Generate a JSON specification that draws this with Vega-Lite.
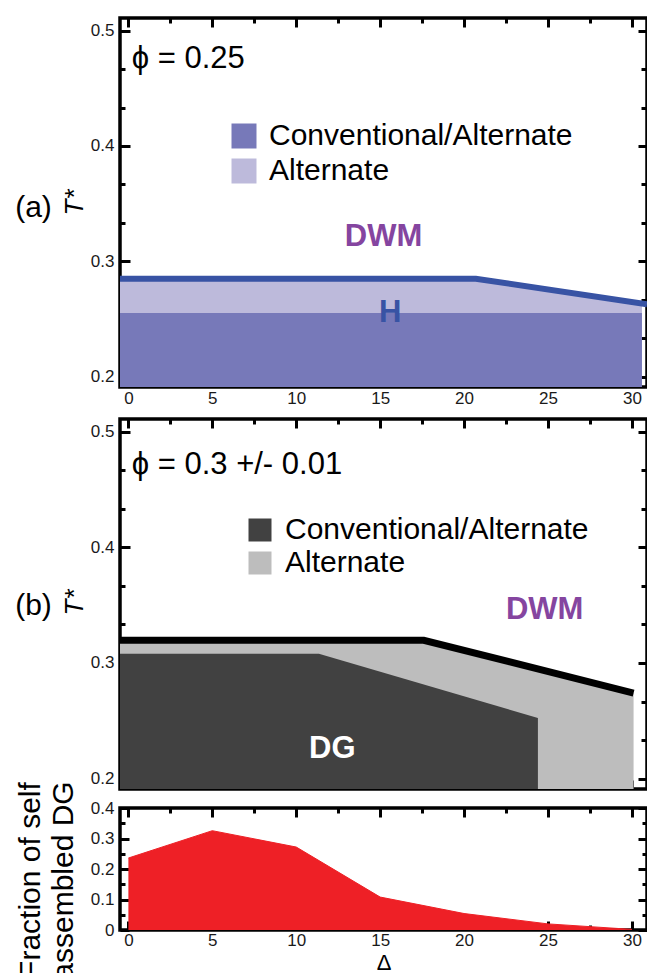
{
  "$schema": "https://vega.github.io/schema/vega-lite/v6.json",
  "padding": {"left": 12, "top": 14, "right": 0, "bottom": 0},
  "background": "white",
  "spacing": 32,
  "bounds": "flush",
  "resolve": {"scale": {"color": "independent"}, "legend": {"color": "independent"}},
  "config": {
    "view": {"stroke": "black", "strokeWidth": 3.5},
    "axis": {"domain": false, "grid": false, "tickColor": "black", "tickWidth": 3, "labelFont": "Liberation Sans", "labelFontSize": 17, "labelColor": "#1a1a1a", "titleFont": "Liberation Sans", "titleColor": "black", "titleFontWeight": "normal", "labelFlush": false, "labelOverlap": false, "zindex": 1},
    "text": {"font": "Liberation Sans"},
    "legend": {"labelFont": "Liberation Sans"}
  },
  "vconcat": [
    {
      "width": 527,
      "height": 369,
      "resolve": {"axis": {"x": "independent", "y": "independent"}},
      "layer": [
        {
          "data": {"values": [
            {"delta": -0.5, "top": 0.2552, "bottom": 0.191, "phase": "Conventional/Alternate"},
            {"delta": 30.6, "top": 0.2552, "bottom": 0.191, "phase": "Conventional/Alternate"}
          ]},
          "mark": {"type": "area", "opacity": 1},
          "encoding": {
            "x": {"field": "delta", "type": "quantitative", "scale": {"domain": [-0.5, 30.9], "nice": false, "zero": false},
              "axis": {"orient": "bottom", "values": [0, 2.5, 5, 7.5, 10, 12.5, 15, 17.5, 20, 22.5, 25, 27.5, 30],
                "tickSize": {"condition": {"test": "datum.value % 5 == 0", "value": -9}, "value": -5},
                "labelExpr": "datum.value % 5 == 0 ? datum.label : ''", "labelPadding": 12, "title": null}},
            "y": {"field": "top", "type": "quantitative", "scale": {"domain": [0.191, 0.511], "nice": false, "zero": false},
              "axis": {"orient": "left", "values": [0.2, 0.23333, 0.26667, 0.3, 0.33333, 0.36667, 0.4, 0.43333, 0.46667, 0.5],
                "tickSize": {"condition": {"test": "abs(datum.value*10 - round(datum.value*10)) < 0.01", "value": -10}, "value": -5},
                "labelExpr": "abs(datum.value*10 - round(datum.value*10)) < 0.01 ? format(datum.value, '.1f') : ''",
                "labelPadding": 16, "title": "T*", "titleFontStyle": "italic", "titleFontSize": 26, "titleAngle": 270,
                "titleX": -46, "titleY": 184, "titleAlign": "center", "titleBaseline": "middle"}},
            "y2": {"field": "bottom"},
            "color": {"field": "phase", "type": "nominal",
              "scale": {"domain": ["Conventional/Alternate", "Alternate"], "range": ["#7779b9", "#bdbadb"]},
              "legend": {"orient": "none", "legendX": 109, "legendY": 103, "title": null, "symbolType": "square", "symbolSize": 625, "symbolStrokeWidth": 0, "symbolOpacity": 1, "labelFontSize": 30, "labelColor": "black", "labelOffset": 10, "rowPadding": 5, "padding": 0, "labelLimit": 400}}
          }
        },
        {
          "data": {"values": [
            {"delta": -0.5, "top": 0.2849, "bottom": 0.2552, "phase": "Alternate"},
            {"delta": 20.7, "top": 0.2849, "bottom": 0.2552, "phase": "Alternate"},
            {"delta": 30.6, "top": 0.2636, "bottom": 0.2552, "phase": "Alternate"}
          ]},
          "mark": {"type": "area", "opacity": 1},
          "encoding": {
            "x": {"field": "delta", "type": "quantitative", "axis": null},
            "y": {"field": "top", "type": "quantitative",
              "axis": {"orient": "left", "ticks": false, "labels": false, "title": "(a)", "titleFontSize": 30, "titleAngle": 0,
                "titleX": -87, "titleY": 189, "titleAlign": "center", "titleBaseline": "middle"}},
            "y2": {"field": "bottom"},
            "color": {"field": "phase", "type": "nominal"}
          }
        },
        {
          "data": {"values": [
            {"delta": -0.5, "t": 0.2849},
            {"delta": 20.7, "t": 0.2849},
            {"delta": 30.9, "t": 0.2628}
          ]},
          "mark": {"type": "line", "color": "#3853a4", "strokeWidth": 6},
          "encoding": {
            "x": {"field": "delta", "type": "quantitative",
              "axis": {"orient": "top", "values": [0, 2.5, 5, 7.5, 10, 12.5, 15, 17.5, 20, 22.5, 25, 27.5, 30],
                "tickSize": {"condition": {"test": "datum.value % 5 == 0", "value": -9}, "value": -5},
                "labels": false, "title": null}},
            "y": {"field": "t", "type": "quantitative",
              "axis": {"orient": "right", "values": [0.2, 0.23333, 0.26667, 0.3, 0.33333, 0.36667, 0.4, 0.43333, 0.46667, 0.5],
                "tickSize": {"condition": {"test": "abs(datum.value*10 - round(datum.value*10)) < 0.01", "value": -9}, "value": -6},
                "labels": false, "title": null}}
          }
        },
        {
          "data": {"values": [{"label": "ϕ = 0.25", "delta": 0.2, "t": 0.4754}]},
          "mark": {"type": "text", "align": "left", "baseline": "middle", "fontSize": 31, "color": "black"},
          "encoding": {
            "x": {"field": "delta", "type": "quantitative", "axis": null},
            "y": {"field": "t", "type": "quantitative", "axis": null},
            "text": {"field": "label"}
          }
        },
        {
          "data": {"values": [{"label": "DWM", "delta": 15.2, "t": 0.321}]},
          "mark": {"type": "text", "align": "center", "baseline": "middle", "fontSize": 31, "fontWeight": "bold", "color": "#8545a0"},
          "encoding": {
            "x": {"field": "delta", "type": "quantitative", "axis": null},
            "y": {"field": "t", "type": "quantitative", "axis": null},
            "text": {"field": "label"}
          }
        },
        {
          "data": {"values": [{"label": "H", "delta": 15.6, "t": 0.2555}]},
          "mark": {"type": "text", "align": "center", "baseline": "middle", "fontSize": 31, "fontWeight": "bold", "color": "#3853a4"},
          "encoding": {
            "x": {"field": "delta", "type": "quantitative", "axis": null},
            "y": {"field": "t", "type": "quantitative", "axis": null},
            "text": {"field": "label"}
          }
        }
      ]
    },
    {
      "spacing": 19,
      "bounds": "flush",
      "vconcat": [
        {
          "width": 527,
          "height": 370,
          "resolve": {"axis": {"x": "independent", "y": "independent"}},
          "layer": [
            {
              "data": {"values": [
                {"delta": -0.5, "top": 0.3196, "bottom": 0.191, "phase": "Alternate"},
                {"delta": 17.6, "top": 0.3196, "bottom": 0.191, "phase": "Alternate"},
                {"delta": 30.1, "top": 0.274, "bottom": 0.191, "phase": "Alternate"}
              ]},
              "mark": {"type": "area", "opacity": 1},
              "encoding": {
                "x": {"field": "delta", "type": "quantitative", "scale": {"domain": [-0.5, 30.9], "nice": false, "zero": false},
                  "axis": {"orient": "bottom", "values": [0, 2.5, 5, 7.5, 10, 12.5, 15, 17.5, 20, 22.5, 25, 27.5, 30],
                    "tickSize": {"condition": {"test": "datum.value % 5 == 0", "value": -9}, "value": -5},
                    "labels": false, "title": null}},
                "y": {"field": "top", "type": "quantitative", "scale": {"domain": [0.191, 0.511], "nice": false, "zero": false},
                  "axis": {"orient": "left", "values": [0.2, 0.23333, 0.26667, 0.3, 0.33333, 0.36667, 0.4, 0.43333, 0.46667, 0.5],
                    "tickSize": {"condition": {"test": "abs(datum.value*10 - round(datum.value*10)) < 0.01", "value": -10}, "value": -5},
                    "labelExpr": "abs(datum.value*10 - round(datum.value*10)) < 0.01 ? format(datum.value, '.1f') : ''",
                    "labelPadding": 16, "title": "T*", "titleFontStyle": "italic", "titleFontSize": 26, "titleAngle": 270,
                    "titleX": -46, "titleY": 183, "titleAlign": "center", "titleBaseline": "middle"}},
                "y2": {"field": "bottom"},
                "color": {"field": "phase", "type": "nominal",
                  "scale": {"domain": ["Conventional/Alternate", "Alternate"], "range": ["#414141", "#bdbdbd"]},
                  "legend": {"orient": "none", "legendX": 125, "legendY": 96, "title": null, "symbolType": "square", "symbolSize": 529, "symbolStrokeWidth": 0, "symbolOpacity": 1, "labelFontSize": 30, "labelColor": "black", "labelOffset": 10, "rowPadding": 3, "padding": 0, "labelLimit": 400}}
              }
            },
            {
              "data": {"values": [
                {"delta": -0.5, "top": 0.308, "bottom": 0.191, "phase": "Conventional/Alternate"},
                {"delta": 11.35, "top": 0.308, "bottom": 0.191, "phase": "Conventional/Alternate"},
                {"delta": 24.4, "top": 0.2524, "bottom": 0.191, "phase": "Conventional/Alternate"}
              ]},
              "mark": {"type": "area", "opacity": 1},
              "encoding": {
                "x": {"field": "delta", "type": "quantitative", "axis": null},
                "y": {"field": "top", "type": "quantitative",
                  "axis": {"orient": "left", "ticks": false, "labels": false, "title": "(b)", "titleFontSize": 30, "titleAngle": 0,
                    "titleX": -87, "titleY": 186, "titleAlign": "center", "titleBaseline": "middle"}},
                "y2": {"field": "bottom"},
                "color": {"field": "phase", "type": "nominal"}
              }
            },
            {
              "data": {"values": [
                {"delta": -0.5, "t": 0.3196},
                {"delta": 17.6, "t": 0.3196},
                {"delta": 30.1, "t": 0.274}
              ]},
              "mark": {"type": "line", "color": "black", "strokeWidth": 7},
              "encoding": {
                "x": {"field": "delta", "type": "quantitative",
                  "axis": {"orient": "top", "values": [0, 2.5, 5, 7.5, 10, 12.5, 15, 17.5, 20, 22.5, 25, 27.5, 30],
                    "tickSize": {"condition": {"test": "datum.value % 5 == 0", "value": -9}, "value": -5},
                    "labels": false, "title": null}},
                "y": {"field": "t", "type": "quantitative",
                  "axis": {"orient": "right", "values": [0.2, 0.23333, 0.26667, 0.3, 0.33333, 0.36667, 0.4, 0.43333, 0.46667, 0.5],
                    "tickSize": {"condition": {"test": "abs(datum.value*10 - round(datum.value*10)) < 0.01", "value": -9}, "value": -6},
                    "labels": false, "title": null}}
              }
            },
            {
              "data": {"values": [{"label": "ϕ = 0.3 +/- 0.01", "delta": 0.2, "t": 0.4712}]},
              "mark": {"type": "text", "align": "left", "baseline": "middle", "fontSize": 31, "color": "black"},
              "encoding": {
                "x": {"field": "delta", "type": "quantitative", "axis": null},
                "y": {"field": "t", "type": "quantitative", "axis": null},
                "text": {"field": "label"}
              }
            },
            {
              "data": {"values": [{"label": "DWM", "delta": 24.8, "t": 0.3458}]},
              "mark": {"type": "text", "align": "center", "baseline": "middle", "fontSize": 31, "fontWeight": "bold", "color": "#8545a0"},
              "encoding": {
                "x": {"field": "delta", "type": "quantitative", "axis": null},
                "y": {"field": "t", "type": "quantitative", "axis": null},
                "text": {"field": "label"}
              }
            },
            {
              "data": {"values": [{"label": "DG", "delta": 12.15, "t": 0.2255}]},
              "mark": {"type": "text", "align": "center", "baseline": "middle", "fontSize": 31, "fontWeight": "bold", "color": "white"},
              "encoding": {
                "x": {"field": "delta", "type": "quantitative", "axis": null},
                "y": {"field": "t", "type": "quantitative", "axis": null},
                "text": {"field": "label"}
              }
            }
          ]
        },
        {
          "width": 527,
          "height": 122,
          "resolve": {"axis": {"x": "independent", "y": "independent"}},
          "data": {"values": [
            {"delta": 0, "fraction": 0.236},
            {"delta": 5, "fraction": 0.3256},
            {"delta": 10, "fraction": 0.272},
            {"delta": 15, "fraction": 0.108},
            {"delta": 20, "fraction": 0.054},
            {"delta": 25, "fraction": 0.02},
            {"delta": 30, "fraction": 0.002}
          ]},
          "layer": [
            {
              "mark": {"type": "area", "color": "#ee2026", "opacity": 1},
              "encoding": {
                "x": {"field": "delta", "type": "quantitative", "scale": {"domain": [-0.5, 30.9], "nice": false, "zero": false},
                  "axis": {"orient": "bottom", "values": [0, 2.5, 5, 7.5, 10, 12.5, 15, 17.5, 20, 22.5, 25, 27.5, 30],
                    "tickSize": {"condition": {"test": "datum.value % 5 == 0", "value": -9}, "value": -5},
                    "labelExpr": "datum.value % 5 == 0 ? datum.label : ''", "labelPadding": 11,
                    "title": "Δ", "titleFontSize": 22, "titleY": 32, "titleBaseline": "middle", "titleAlign": "center"}},
                "y": {"field": "fraction", "type": "quantitative", "scale": {"domain": [0, 0.4], "nice": false, "zero": false},
                  "axis": {"orient": "left", "values": [0, 0.05, 0.1, 0.15, 0.2, 0.25, 0.3, 0.35, 0.4],
                    "tickSize": {"condition": {"test": "abs(datum.value*10 - round(datum.value*10)) < 0.01", "value": -9}, "value": -5},
                    "labelExpr": "abs(datum.value*10 - round(datum.value*10)) < 0.01 ? format(datum.value, '~g') : ''",
                    "labelPadding": 15, "title": ["Fraction of self", "assembled DG"], "titleFontSize": 30, "titleLineHeight": 33, "titleAngle": 270,
                    "titleX": -90, "titleY": 72, "titleAlign": "center", "titleBaseline": "middle"}}
              }
            },
            {
              "mark": {"type": "line", "color": "#ee2026", "strokeWidth": 1},
              "encoding": {
                "x": {"field": "delta", "type": "quantitative",
                  "axis": {"orient": "top", "values": [0, 2.5, 5, 7.5, 10, 12.5, 15, 17.5, 20, 22.5, 25, 27.5, 30],
                    "tickSize": {"condition": {"test": "datum.value % 5 == 0", "value": -9}, "value": -5},
                    "labels": false, "title": null}},
                "y": {"field": "fraction", "type": "quantitative",
                  "axis": {"orient": "right", "values": [0, 0.05, 0.1, 0.15, 0.2, 0.25, 0.3, 0.35, 0.4],
                    "tickSize": {"condition": {"test": "abs(datum.value*10 - round(datum.value*10)) < 0.01", "value": -9}, "value": -5},
                    "labels": false, "title": null}}
              }
            }
          ]
        }
      ]
    }
  ]
}
